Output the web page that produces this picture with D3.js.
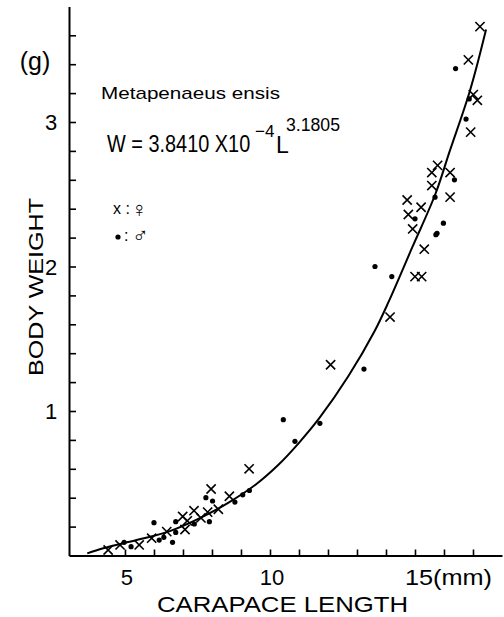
<!DOCTYPE html>
<html>
<head>
<meta charset="utf-8">
<script src="https://cdn.jsdelivr.net/npm/d3@7"></script>
<style>
  body { margin: 0; background: #fff; }
  text { font-family: "Liberation Sans", "DejaVu Sans", sans-serif; fill: #000; }
</style>
</head>
<body>
<svg class="chart" width="504" height="617"></svg>
<script>
// carapace length (mm) and body weight (g)
var femaleL = [17.24,16.84,17.01,17.15,16.92,15.58,15.78,16.21,15.58,16.21,14.73,15.21,14.77,14.92,15.32,15.0,15.23,14.14,12.09,9.28,8.60,7.97,8.22,7.85,7.38,7.62,7.15,7.07,6.99,6.44,5.92,5.49,4.83,4.42];
var femaleW = [3.66,3.43,3.19,3.15,2.93,2.65,2.70,2.65,2.56,2.48,2.46,2.41,2.36,2.26,2.12,1.93,1.93,1.65,1.32,0.60,0.41,0.46,0.32,0.30,0.31,0.26,0.24,0.18,0.27,0.165,0.12,0.073,0.073,0.038];
var maleL = [16.40,16.87,16.76,16.36,15.69,15.0,15.98,15.72,15.76,13.62,14.20,13.24,10.46,11.72,10.86,9.29,9.06,8.79,7.79,8.02,7.91,7.39,6.75,6.75,6.64,6.34,6.18,6.0,5.21,4.97];
var maleW = [3.37,3.16,3.02,2.60,2.48,2.33,2.30,2.22,2.23,2.00,1.93,1.29,0.94,0.915,0.79,0.45,0.42,0.37,0.40,0.377,0.234,0.218,0.234,0.16,0.091,0.126,0.107,0.227,0.061,0.091];

// fitted curve as drawn in the figure
var curveL = [3.7,4.25,5.4,6.5,7.6,8.6,9.5,10.3,11.0,11.7,12.7,13.6,14.1,14.9,15.7,16.2,16.9,17.45];
var curveW = [0.015,0.05,0.107,0.165,0.26,0.37,0.49,0.63,0.78,0.95,1.24,1.55,1.76,2.13,2.50,2.80,3.22,3.64];

var xTicks = [5,6,7,8,9,10,11,12,13,14,15,16,17];
var yTicks = [0.2,0.4,0.6,0.8,1.0,1.2,1.4,1.6,1.8,2.0,2.2,2.4,2.6,2.8,3.0,3.2,3.4,3.6];
var xLabels = ["5", "10", "15(mm)"];
var xLabelAt = [5, 10, 15];
var yLabels = [1, 2, 3];

var svg = d3.select(".chart");

var x = d3.scaleLinear().domain([3.07, 18]).range([69, 502]);
var y = d3.scaleLinear().domain([0, 3.8]).range([555.5, 6.4]);

// axes, ticks pointing inward
svg.append("g").attr("transform", "translate(0," + y(0) + ")")
  .call(d3.axisBottom(x).tickValues(xTicks).tickSizeInner(-6).tickSizeOuter(0).tickFormat(""));
svg.append("g").attr("transform", "translate(" + x.range()[0] + ",0)")
  .call(d3.axisLeft(y).tickValues(yTicks).tickSizeInner(-7).tickSizeOuter(0).tickFormat(""));
svg.selectAll(".domain").attr("stroke", "#000").attr("stroke-width", 2);
svg.selectAll(".tick line").attr("stroke", "#000").attr("stroke-width", 1.6);

// tick labels
svg.selectAll(".xlab").data(xLabels).enter().append("text")
  .attr("x", (d, i) => i == 2 ? x(xLabelAt[i]) - 10 : x(xLabelAt[i]) + 2)
  .attr("y", 585)
  .attr("text-anchor", (d, i) => i == 2 ? "start" : "middle")
  .attr("font-size", 22)
  .attr("textLength", (d, i) => i == 2 ? 87 : null)
  .attr("lengthAdjust", "spacingAndGlyphs")
  .text(d => d);
svg.selectAll(".ylab").data(yLabels).enter().append("text")
  .attr("x", 51).attr("y", d => y(d) + 8)
  .attr("text-anchor", "middle").attr("font-size", 22)
  .text(d => d);
svg.append("text").attr("x", 35).attr("y", 70).attr("text-anchor", "middle").attr("font-size", 25).text("(g)");

// axis titles
svg.append("text").attr("transform", "translate(43,287) rotate(-90)")
  .attr("text-anchor", "middle").attr("font-size", 21)
  .attr("textLength", 178).attr("lengthAdjust", "spacingAndGlyphs")
  .text("BODY WEIGHT");
svg.append("text").attr("x", 157).attr("y", 612).attr("font-size", 22)
  .attr("textLength", 251).attr("lengthAdjust", "spacingAndGlyphs")
  .text("CARAPACE LENGTH");

// species and equation (lettering in the figure is narrow, so squeeze it)
svg.append("text").attr("x", 101).attr("y", 99).attr("font-size", 17)
  .attr("textLength", 179).attr("lengthAdjust", "spacingAndGlyphs")
  .text("Metapenaeus ensis");
svg.append("text").attr("transform", "translate(107,152) scale(0.865,1)").attr("font-size", 23)
  .text("W = 3.8410 X10");
svg.append("text").attr("x", 255).attr("y", 137).attr("font-size", 17).text("\u22124");
svg.append("text").attr("x", 276).attr("y", 153).attr("font-size", 23).text("L");
svg.append("text").attr("transform", "translate(286,131) scale(0.93,1)").attr("font-size", 19)
  .text("3.1805");

// legend
svg.append("text").attr("x", 113).attr("y", 214).attr("font-size", 16).text("x :");
svg.append("text").attr("x", 131).attr("y", 217).attr("font-size", 22).text("\u2640");
svg.append("circle").attr("cx", 118).attr("cy", 237).attr("r", 2.6).attr("fill", "#000");
svg.append("text").attr("x", 124).attr("y", 241).attr("font-size", 16).text(":");
svg.append("text").attr("x", 132).attr("y", 243).attr("font-size", 22).text("\u2642");

// fitted curve
var curvePts = curveL.map((d, i) => [d, curveW[i]]);
svg.append("path").datum(curvePts)
  .attr("fill", "none").attr("stroke", "#000").attr("stroke-width", 2)
  .attr("d", d3.line().x(d => x(d[0])).y(d => y(d[1])).curve(d3.curveCatmullRom));

// females: crosses
var fem = femaleL.map((d, i) => [d, femaleW[i]]);
svg.selectAll(".fem").data(fem).enter().append("path")
  .attr("d", d => {
    var cx = x(d[0]), cy = y(d[1]), s = 4.6;
    return "M" + (cx - s) + "," + (cy - s) + "L" + (cx + s) + "," + (cy + s) +
           "M" + (cx + s) + "," + (cy - s) + "L" + (cx - s) + "," + (cy + s);
  })
  .attr("stroke", "#000").attr("stroke-width", 1.6).attr("fill", "none");

// males: dots
var mal = maleL.map((d, i) => [d, maleW[i]]);
svg.selectAll(".mal").data(mal).enter().append("circle")
  .attr("cx", d => x(d[0])).attr("cy", d => y(d[1])).attr("r", 2.6).attr("fill", "#000");
</script>
</body>
</html>
